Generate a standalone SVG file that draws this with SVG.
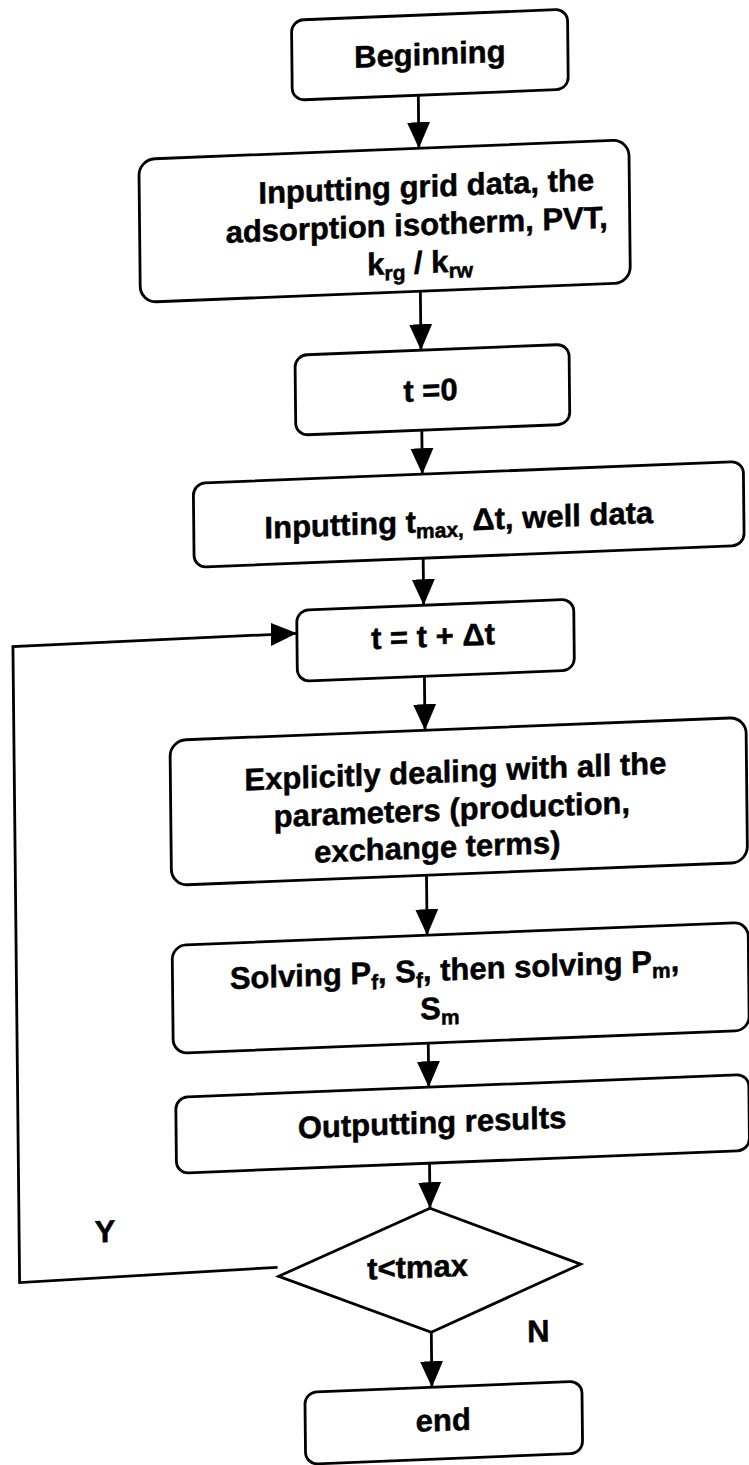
<svg xmlns="http://www.w3.org/2000/svg" width="749" height="1465" viewBox="0 0 749 1465">
<style>
.box{fill:#fff;stroke:#000;stroke-width:2.8}
.ln{fill:none;stroke:#000;stroke-width:2.8}
.t{font-family:"Liberation Sans",Arial,Helvetica,sans-serif;font-weight:bold;font-size:31px;fill:#000;stroke:#000;stroke-width:0.5;text-anchor:middle}
.s{font-size:21px}
</style>
<defs>
<marker id="ah" markerUnits="userSpaceOnUse" markerWidth="28" markerHeight="24" refX="26" refY="11.5" orient="auto" viewBox="0 0 28 24">
<path d="M0,0 L26,11.5 L0,23 z" fill="#000"/>
</marker>
</defs>
<rect width="749" height="1465" fill="#fff"/>
<g transform="translate(430 732) matrix(1 -0.04 0.0105 1 0 0) translate(-430 -732)">
<g id="connectors">
<line class="ln" x1="425" y1="95" x2="425" y2="148" marker-end="url(#ah)"/>
<line class="ln" x1="425" y1="291" x2="425" y2="350" marker-end="url(#ah)"/>
<line class="ln" x1="425" y1="430" x2="425" y2="474" marker-end="url(#ah)"/>
<line class="ln" x1="425" y1="558" x2="425" y2="605" marker-end="url(#ah)"/>
<line class="ln" x1="425" y1="676" x2="425" y2="730" marker-end="url(#ah)"/>
<line class="ln" x1="425" y1="875" x2="425" y2="935" marker-end="url(#ah)"/>
<line class="ln" x1="425" y1="1043" x2="425" y2="1087" marker-end="url(#ah)"/>
<line class="ln" x1="425" y1="1163" x2="425" y2="1208" marker-end="url(#ah)"/>
<line class="ln" x1="425" y1="1332" x2="425" y2="1387" marker-end="url(#ah)"/>
<polyline class="ln" points="272,1261 14,1266 14,630 298,628" marker-end="url(#ah)"/>
</g>
<g id="beginning">
<rect class="box" x="299" y="15" width="276" height="80" rx="12"/>
<text class="t" x="437" y="65" font-size="32">Beginning</text>
</g>
<g id="input-grid">
<rect class="box" x="145" y="148" width="490" height="143" rx="16"/>
<text class="t" x="432" y="197">Inputting grid data, the</text>
<text class="t" x="422" y="235">adsorption isotherm, PVT,</text>
<text class="t" x="425" y="273">k<tspan class="s" dy="6">rg</tspan><tspan dy="-6"> / k</tspan><tspan class="s" dy="6">rw</tspan></text>
</g>
<g id="t0">
<rect class="box" x="299" y="350" width="274" height="80" rx="12"/>
<text class="t" x="434" y="401" font-size="32">t =0</text>
</g>
<g id="input-tmax">
<rect class="box" x="196" y="474" width="550" height="84" rx="12"/>
<text class="t" x="461" y="532" font-size="33">Inputting t<tspan class="s" dy="6">max,</tspan><tspan dy="-6"> Δt, well data</tspan></text>
</g>
<g id="t-step">
<rect class="box" x="298" y="605" width="277" height="71" rx="12"/>
<text class="t" x="434" y="647">t = t + Δt</text>
</g>
<g id="explicit">
<rect class="box" x="170" y="730" width="576" height="145" rx="16"/>
<text class="t" x="455" y="783">Explicitly dealing with all the</text>
<text class="t" x="451" y="821">parameters (production,</text>
<text class="t" x="436" y="858">exchange terms)</text>
</g>
<g id="solving">
<rect class="box" x="170" y="935" width="576" height="108" rx="14"/>
<text class="t" x="452" y="981">Solving P<tspan class="s" dy="6">f</tspan><tspan dy="-6">, S</tspan><tspan class="s" dy="6">f</tspan><tspan dy="-6">, then solving P</tspan><tspan class="s" dy="6">m</tspan><tspan dy="-6">,</tspan></text>
<text class="t" x="437" y="1019">S<tspan class="s" dy="6">m</tspan></text>
</g>
<g id="output">
<rect class="box" x="172" y="1087" width="573" height="76" rx="12"/>
<text class="t" x="428" y="1133">Outputting results</text>
</g>
<g id="decision">
<polygon class="box" points="425,1208 575,1270 425,1332 273,1270"/>
<text class="t" x="412" y="1277">t&lt;tmax</text>
</g>
<g id="labels">
<text class="t" x="100" y="1229" font-size="30">Y</text>
<text class="t" x="532" y="1346" font-size="28">N</text>
</g>
<g id="end">
<rect class="box" x="298" y="1387" width="277" height="72" rx="12"/>
<text class="t" x="436" y="1431" font-size="32">end</text>
</g>
</g>
</svg>
